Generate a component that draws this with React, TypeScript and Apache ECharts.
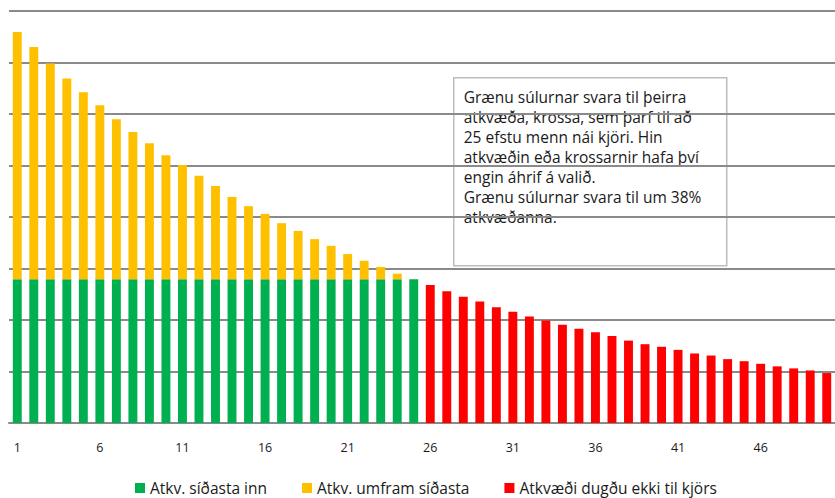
import React, { useEffect, useRef } from "react";
import * as echarts from "echarts";

const categories: string[] = Array.from({ length: 50 }, (_, i) => String(i + 1));

// Green: votes of the last elected (constant for places 1-25)
const greenValues: (number | string)[] = [
  2.79, 2.79, 2.79, 2.79, 2.79, 2.79, 2.79, 2.79, 2.79, 2.79,
  2.79, 2.79, 2.79, 2.79, 2.79, 2.79, 2.79, 2.79, 2.79, 2.79,
  2.79, 2.79, 2.79, 2.79, 2.79,
  "-", "-", "-", "-", "-", "-", "-", "-", "-", "-",
  "-", "-", "-", "-", "-", "-", "-", "-", "-", "-",
  "-", "-", "-", "-", "-",
];

// Yellow: votes beyond the last elected
const yellowValues: (number | string)[] = [
  4.80, 4.51, 4.19, 3.90, 3.63, 3.38, 3.11, 2.86, 2.64, 2.41,
  2.22, 2.01, 1.81, 1.60, 1.42, 1.27, 1.09, 0.94, 0.78, 0.65,
  0.49, 0.36, 0.24, 0.11, 0,
  "-", "-", "-", "-", "-", "-", "-", "-", "-", "-",
  "-", "-", "-", "-", "-", "-", "-", "-", "-", "-",
  "-", "-", "-", "-", "-",
];

// Red: votes that did not suffice
const redValues: (number | string)[] = [
  "-", "-", "-", "-", "-", "-", "-", "-", "-", "-",
  "-", "-", "-", "-", "-", "-", "-", "-", "-", "-",
  "-", "-", "-", "-", "-",
  2.68, 2.56, 2.45, 2.36, 2.25, 2.16, 2.07, 1.99, 1.91, 1.83,
  1.76, 1.69, 1.60, 1.53, 1.48, 1.42, 1.35, 1.31, 1.24, 1.20,
  1.15, 1.10, 1.06, 1.02, 0.97,
];

const seriesNames = [
  "Atkv. síðasta inn",
  "Atkv. umfram síðasta",
  "Atkvæði dugðu ekki til kjörs",
];

const noteText = [
  "Grænu súlurnar svara til þeirra",
  "atkvæða, krossa, sem þarf til að",
  "25 efstu menn nái kjöri. Hin",
  "atkvæðin eða krossarnir hafa því",
  "engin áhrif á valið.",
  "Grænu súlurnar svara til um 38%",
  "atkvæðanna.",
].join("\n");

const FONT = "'Open Sans', 'Noto Sans', sans-serif";

export default function App() {
  const ref = useRef<HTMLDivElement>(null);

  useEffect(() => {
    document.body.style.margin = "0";
    if (!ref.current) return;
    const chart = echarts.init(ref.current, undefined, { renderer: "svg" });
    const gridColor = "#8a8a8a";
    chart.setOption({
      animation: false,
      backgroundColor: "#ffffff",
      textStyle: { fontFamily: FONT },
      grid: { left: 9, top: 11, width: 836, height: 412, containLabel: false },
      legend: {
        left: 135,
        top: 480,
        padding: 0,
        itemWidth: 10,
        itemHeight: 10,
        itemGap: 35,
        icon: "rect",
        textStyle: { fontSize: 15.5, color: "#1a1a1a", fontFamily: FONT },
        data: seriesNames,
      },
      xAxis: {
        type: "category",
        data: categories,
        axisTick: { show: false },
        axisLine: { show: true, lineStyle: { color: gridColor, width: 2 } },
        axisLabel: {
          interval: 4,
          margin: 18,
          fontSize: 12.5,
          color: "#1a1a1a",
          fontFamily: FONT,
        },
      },
      yAxis: {
        type: "value",
        min: 0,
        max: 8,
        interval: 1,
        axisLabel: { show: false },
        axisLine: { show: false },
        axisTick: { show: false },
        splitLine: { show: true, lineStyle: { color: gridColor, width: 2 } },
      },
      series: [
        {
          name: seriesNames[0],
          type: "bar",
          stack: "total",
          data: greenValues,
          barWidth: "54%",
          itemStyle: { color: "#00B050" },
        },
        {
          name: seriesNames[1],
          type: "bar",
          stack: "total",
          data: yellowValues,
          barWidth: "54%",
          itemStyle: { color: "#FFC000" },
        },
        {
          name: seriesNames[2],
          type: "bar",
          stack: "total",
          data: redValues,
          barWidth: "54%",
          itemStyle: { color: "#FF0000" },
        },
      ],
      graphic: [
        {
          type: "group",
          left: 453,
          top: 77,
          children: [
            {
              type: "rect",
              shape: { x: 0, y: 0, width: 273, height: 188 },
              style: { fill: "#ffffff", stroke: "#bdbdbd", lineWidth: 1.5 },
            },
            {
              type: "text",
              x: 10,
              y: 9,
              style: {
                text: noteText,
                fontSize: 15.5,
                lineHeight: 20,
                fill: "#1a1a1a",
                fontFamily: FONT,
              },
            },
          ],
        },
      ],
    });
    return () => chart.dispose();
  }, []);

  return <div ref={ref} style={{ width: 835, height: 498 }} />;
}
